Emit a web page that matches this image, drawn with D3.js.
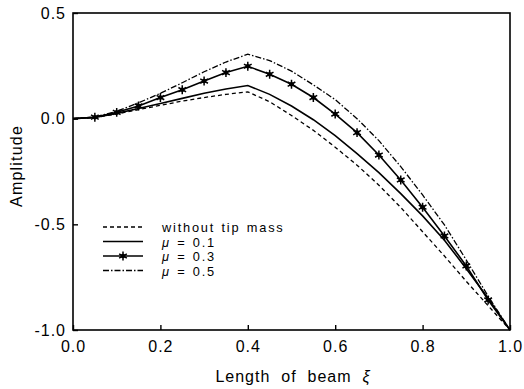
<!DOCTYPE html>
<html>
<head>
<meta charset="utf-8">
<script src="https://cdn.jsdelivr.net/npm/d3@7"></script>
<style>
  body { margin: 0; background: #fff; }
  text { font-family: "Liberation Sans", Arial, sans-serif; fill: #000; }
</style>
</head>
<body>
<div id="chart"></div>
<script>
// positions along the beam
var xi = [0, 0.05, 0.1, 0.15, 0.2, 0.25, 0.3, 0.35, 0.4, 0.45, 0.5,
          0.55, 0.6, 0.65, 0.7, 0.75, 0.8, 0.85, 0.9, 0.95, 1.0];

var noTipMass = [0, 0.005, 0.022, 0.043, 0.063, 0.083, 0.1, 0.115, 0.127, 0.08, 0.015,
                 -0.055, -0.135, -0.22, -0.315, -0.42, -0.535, -0.65, -0.77, -0.885, -1.0];
var mu01 = [0, 0.006, 0.025, 0.048, 0.072, 0.096, 0.12, 0.14, 0.157, 0.115, 0.06,
            -0.005, -0.08, -0.165, -0.255, -0.355, -0.46, -0.575, -0.71, -0.85, -1.0];
var mu03 = [0, 0.007, 0.03, 0.06, 0.1, 0.137, 0.178, 0.218, 0.248, 0.21, 0.163,
            0.1, 0.022, -0.066, -0.172, -0.29, -0.419, -0.555, -0.697, -0.858, -1.0];
var mu05 = [0, 0.008, 0.035, 0.075, 0.12, 0.17, 0.222, 0.268, 0.305, 0.275, 0.225,
            0.16, 0.09, 0.0, -0.104, -0.227, -0.361, -0.503, -0.669, -0.84, -1.0];

var xTicks = [0, 0.2, 0.4, 0.6, 0.8, 1.0];
var yTicks = [0.5, 0, -0.5, -1.0];

var series = [
    { label: "without tip mass", mu: null, values: noTipMass, dash: "4,3", marker: false },
    { label: "0.1", mu: true, values: mu01, dash: null, marker: false },
    { label: "0.3", mu: true, values: mu03, dash: null, marker: true },
    { label: "0.5", mu: true, values: mu05, dash: "6,2,1.5,2", marker: false }
];

var width = 524, height = 389;
var margin = { top: 13, right: 14, bottom: 59, left: 73 };

var svg = d3.select("#chart").append("svg")
    .attr("width", width)
    .attr("height", height);

var x = d3.scaleLinear().domain([0, 1]).range([margin.left, width - margin.right]);
var y = d3.scaleLinear().domain([-1, 0.5]).range([height - margin.bottom, margin.top]);

// plain hyphen for negatives, like the original
var fmt = function (d) { return d3.format(".1f")(d).replace("\u2212", "-"); };

// plot frame
svg.append("rect")
    .attr("x", x(0)).attr("y", y(0.5))
    .attr("width", x(1) - x(0)).attr("height", y(-1) - y(0.5))
    .attr("fill", "none").attr("stroke", "#000").attr("stroke-width", 1.6);

// inward ticks, major + minor
var xAxis = svg.append("g").attr("transform", "translate(0," + y(-1) + ")");
xAxis.call(d3.axisBottom(x).tickValues(d3.range(0, 1.01, 0.1)).tickSize(-3).tickFormat(""));
xAxis.call(d3.axisBottom(x).tickValues(xTicks).tickSize(-5).tickFormat(fmt).tickPadding(11));

var yAxis = svg.append("g").attr("transform", "translate(" + x(0) + ",0)");
yAxis.call(d3.axisLeft(y).tickValues(d3.range(-1, 0.51, 0.25)).tickSize(-3).tickFormat(""));
yAxis.call(d3.axisLeft(y).tickValues(yTicks).tickSize(-5).tickFormat(fmt).tickPadding(7));

svg.selectAll(".domain").remove();
svg.selectAll(".tick line").attr("stroke", "#000").attr("stroke-width", 1.4);
svg.selectAll(".tick text")
    .style("font-size", "16px")
    .style("letter-spacing", "1px")
    .style("font-family", "'Liberation Sans', Arial, sans-serif");

// axis titles
svg.append("text")
    .attr("x", 293).attr("y", 382)
    .attr("text-anchor", "middle")
    .style("font-size", "16px")
    .style("letter-spacing", "1px")
    .html('Length&#160;&#160;of&#160;&#160;beam&#160;&#160;<tspan font-style="italic">\u03be</tspan>');

svg.append("text")
    .attr("transform", "translate(22,166) rotate(-90)")
    .attr("text-anchor", "middle")
    .style("font-size", "16px")
    .style("letter-spacing", "1.2px")
    .text("Amplitude");

// curves
var line = d3.line()
    .x(function (d) { return x(d[0]); })
    .y(function (d) { return y(d[1]); });

var star = d3.symbol().type(d3.symbolAsterisk).size(55);

series.forEach(function (s) {
    var pts = xi.map(function (v, i) { return [v, s.values[i]]; });
    svg.append("path")
        .datum(pts)
        .attr("d", line)
        .attr("fill", "none")
        .attr("stroke", "#000")
        .attr("stroke-width", s.dash ? 1.3 : 1.6)
        .attr("stroke-dasharray", s.dash);

    if (s.marker) {
        var m = svg.append("g").selectAll("g").data(pts.slice(1, pts.length - 1)).enter()
            .append("g")
            .attr("transform", function (d) { return "translate(" + x(d[0]) + "," + y(d[1]) + ")"; });
        m.append("path").attr("d", star).attr("fill", "none").attr("stroke", "#000").attr("stroke-width", 1.5);
        m.append("circle").attr("r", 2.3).attr("fill", "#000");
    }
});

// legend
var legend = svg.append("g");
var legendY = [227, 241.5, 256, 270.5];
series.forEach(function (s, i) {
    var ly = legendY[i];
    legend.append("line")
        .attr("x1", 103).attr("x2", 143)
        .attr("y1", ly).attr("y2", ly)
        .attr("stroke", "#000")
        .attr("stroke-width", s.dash ? 1.3 : 1.6)
        .attr("stroke-dasharray", s.dash);
    if (s.marker) {
        var g = legend.append("g").attr("transform", "translate(123," + ly + ")");
        g.append("path").attr("d", star).attr("fill", "none").attr("stroke", "#000").attr("stroke-width", 1.5);
        g.append("circle").attr("r", 2.3).attr("fill", "#000");
    }
    var t = legend.append("text")
        .attr("x", 162).attr("y", ly + 5)
        .style("font-size", "12.8px")
        .style("letter-spacing", "1.8px")
        .style("word-spacing", "1px");
    if (s.mu) {
        t.append("tspan").attr("font-style", "italic").text("\u03bc");
        t.append("tspan").text(" = " + s.label);
    } else {
        t.text(s.label);
    }
});
</script>
</body>
</html>
